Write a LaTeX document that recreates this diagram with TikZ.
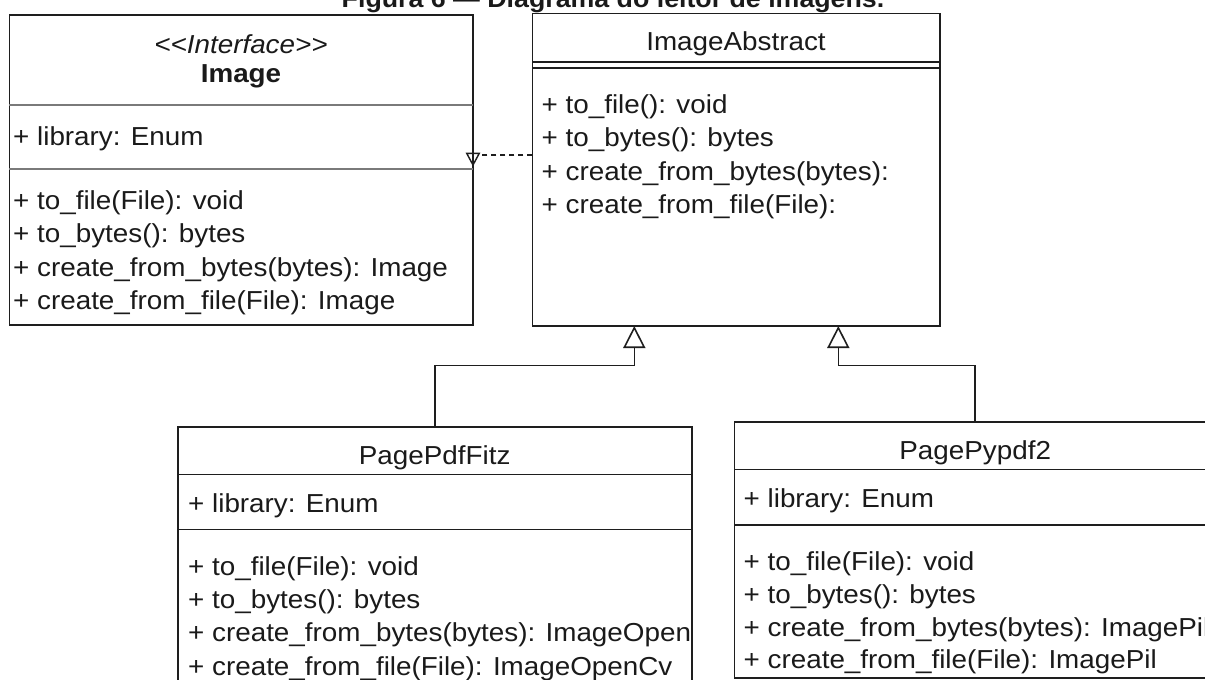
\documentclass[tikz,border=0pt]{standalone}
\usepackage{fontspec}
\newfontfamily\uml{Liberation Sans}[FakeStretch=1.07]
\usetikzlibrary{arrows.meta}
\definecolor{ln}{HTML}{1E1E1E}
\definecolor{dv}{HTML}{7A7A7A}
\definecolor{tc}{HTML}{1A1A1A}
\begin{document}
\begin{tikzpicture}[x=1pt,y=-1pt,
  umlbox/.style={draw=ln, line width=1.6pt, fill=white, inner sep=0pt, outer sep=0pt, anchor=north west},
  lbl/.style={inner sep=0pt, anchor=base west, text=tc, font=\uml\fontsize{26}{26}\selectfont},
  clbl/.style={lbl, anchor=base},
  sepline/.style={draw=ln, line width=1.6pt},
  gsepline/.style={draw=dv, line width=2.6pt},
  gen/.style={draw=ln, line width=1.6pt, -{Triangle[open, length=22pt, width=22pt]}},
  realiz/.style={draw=ln, line width=1.5pt, dash pattern=on 5pt off 4pt},
  realtip/.style={draw=ln, line width=1.4pt},
]
\useasboundingbox (0,0) rectangle (1205,680);
\fill[white] (0,0) rectangle (1205,680);
\begin{scope}
\clip (0,0) rectangle (1205,680);

% title (cut at the top, as in the reference)
\node[clbl, font=\uml\fontsize{25}{25}\selectfont\bfseries] (title) at (613,7) {Figura 6 — Diagrama do leitor de imagens.};

% boxes
\node[umlbox, minimum width=463.4pt, minimum height=310pt] (img) at (9.3,15) {};
\node[umlbox, minimum width=407.7pt, minimum height=312.7pt] (abs) at (532.3,13.3) {};
\node[umlbox, minimum width=514pt, minimum height=280pt] (fitz) at (177.7,426.7) {};
\node[umlbox, minimum width=481.7pt, minimum height=256.3pt] (pyp) at (734.3,421.7) {};

% dividers
\draw[gsepline] (img.west |- 0,105) -- (img.east |- 0,105);
\draw[gsepline] (img.west |- 0,169) -- (img.east |- 0,169);
\draw[sepline] (abs.west |- 0,62) -- (abs.east |- 0,62);
\draw[sepline] (abs.west |- 0,68) -- (abs.east |- 0,68);
\draw[sepline] (fitz.west |- 0,474.3) -- (fitz.east |- 0,474.3);
\draw[sepline] (fitz.west |- 0,529.3) -- (fitz.east |- 0,529.3);
\draw[sepline] (pyp.west |- 0,469.3) -- (pyp.east |- 0,469.3);
\draw[sepline] (pyp.west |- 0,525) -- (pyp.east |- 0,525);

% Image interface
\node[clbl, font=\uml\fontsize{26}{26}\selectfont\itshape] (imgst) at (241,53.5) {<<Interface>>};
\node[clbl, font=\uml\fontsize{26}{26}\selectfont\bfseries] (imgname) at (241,82.5) {Image};
\node[lbl] (imga1) at (13,145) {+ library: Enum};
\node[lbl] (imgm1) at (13,209) {+ to\_file(File): void};
\node[lbl] (imgm2) at (13,242.5) {+ to\_bytes(): bytes};
\node[lbl] (imgm3) at (13,276) {+ create\_from\_bytes(bytes): Image};
\node[lbl] (imgm4) at (13,309.5) {+ create\_from\_file(File): Image};

% ImageAbstract
\node[clbl] (absname) at (736,50) {ImageAbstract};
\node[lbl] (absm1) at (541.5,113.3) {+ to\_file(): void};
\node[lbl] (absm2) at (541.5,146.7) {+ to\_bytes(): bytes};
\node[lbl] (absm3) at (541.5,180) {+ create\_from\_bytes(bytes):};
\node[lbl] (absm4) at (541.5,213.3) {+ create\_from\_file(File):};

% PagePdfFitz
\begin{scope}
\clip (fitz.north west) rectangle (fitz.south east);
\node[clbl] (fitzname) at (434.7,464) {PagePdfFitz};
\node[lbl] (fitza1) at (188,512.7) {+ library: Enum};
\node[lbl] (fitzm1) at (188,575) {+ to\_file(File): void};
\node[lbl] (fitzm2) at (188,608.3) {+ to\_bytes(): bytes};
\node[lbl] (fitzm3) at (188,641.7) {+ create\_from\_bytes(bytes): ImageOpenCv};
\node[lbl] (fitzm4) at (188,675) {+ create\_from\_file(File): ImageOpenCv};
\end{scope}

% PagePypdf2
\node[clbl] (pypname) at (975.2,459.3) {PagePypdf2};
\node[lbl] (pypa1) at (743.5,507.3) {+ library: Enum};
\node[lbl] (pypm1) at (743.5,570.7) {+ to\_file(File): void};
\node[lbl] (pypm2) at (743.5,603.3) {+ to\_bytes(): bytes};
\node[lbl] (pypm3) at (743.5,636.7) {+ create\_from\_bytes(bytes): ImagePil};
\node[lbl] (pypm4) at (743.5,668.3) {+ create\_from\_file(File): ImagePil};

% realization (dashed) from ImageAbstract to Image
\coordinate (rtip) at (479.3,155);
\draw[realiz] (abs.west |- rtip) -- (rtip);
\draw[realtip] (466.7,153.3) -- (rtip |- 0,153.3) -- (473,165) -- cycle;

% generalizations
\coordinate (j1) at (634.3,365.3);
\coordinate (j2) at (838.3,365.3);
\draw[gen] (fitz.north) |- (j1) -- (j1 |- abs.south);
\draw[gen] (pyp.north) |- (j2) -- (j2 |- abs.south);
\end{scope}
\end{tikzpicture}
\end{document}
